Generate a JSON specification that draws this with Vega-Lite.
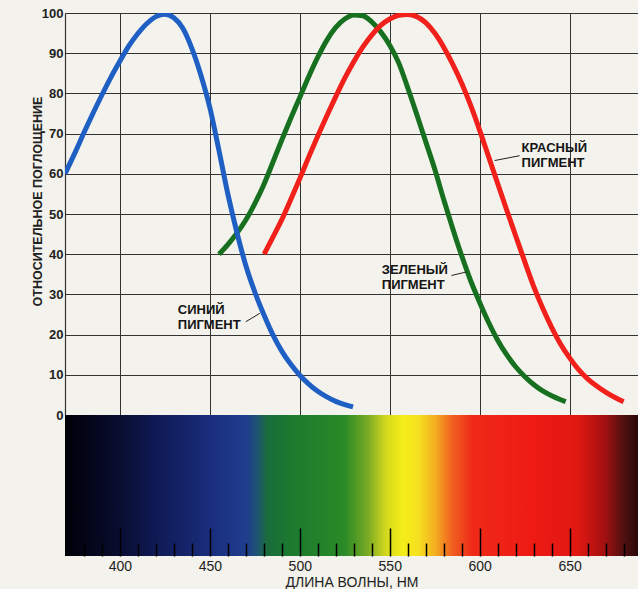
{
  "$schema": "https://vega.github.io/schema/vega-lite/v6.json",
  "background": "#f3f2ec",
  "padding": {"left": 31, "top": 7, "right": 0, "bottom": 0},
  "spacing": 0,
  "bounds": "flush",
  "config": {"view": {"stroke": null}, "font": "Liberation Sans"},
  "datasets": {
    "curves": [
      {"pigment": "зеленый", "w": 455.1, "v": 40},
      {"pigment": "зеленый", "w": 460, "v": 42.4},
      {"pigment": "зеленый", "w": 465, "v": 45.2},
      {"pigment": "зеленый", "w": 470, "v": 48.5},
      {"pigment": "зеленый", "w": 475, "v": 52.6},
      {"pigment": "зеленый", "w": 480, "v": 57.3},
      {"pigment": "зеленый", "w": 485, "v": 62.8},
      {"pigment": "зеленый", "w": 490, "v": 68.4},
      {"pigment": "зеленый", "w": 495, "v": 73.8},
      {"pigment": "зеленый", "w": 500, "v": 79},
      {"pigment": "зеленый", "w": 505, "v": 84.2},
      {"pigment": "зеленый", "w": 510, "v": 89},
      {"pigment": "зеленый", "w": 515, "v": 93.2},
      {"pigment": "зеленый", "w": 520, "v": 96.4},
      {"pigment": "зеленый", "w": 525, "v": 98.5},
      {"pigment": "зеленый", "w": 530, "v": 99.5},
      {"pigment": "зеленый", "w": 535, "v": 99.3},
      {"pigment": "зеленый", "w": 540, "v": 97.8},
      {"pigment": "зеленый", "w": 545, "v": 95.3},
      {"pigment": "зеленый", "w": 550, "v": 92},
      {"pigment": "зеленый", "w": 555, "v": 87.6},
      {"pigment": "зеленый", "w": 560, "v": 81.4},
      {"pigment": "зеленый", "w": 565, "v": 74.8},
      {"pigment": "зеленый", "w": 570, "v": 68},
      {"pigment": "зеленый", "w": 575, "v": 61.2},
      {"pigment": "зеленый", "w": 580, "v": 53.6},
      {"pigment": "зеленый", "w": 585, "v": 46.4},
      {"pigment": "зеленый", "w": 590, "v": 39.6},
      {"pigment": "зеленый", "w": 595, "v": 33.4},
      {"pigment": "зеленый", "w": 600, "v": 28},
      {"pigment": "зеленый", "w": 605, "v": 23},
      {"pigment": "зеленый", "w": 610, "v": 18.6},
      {"pigment": "зеленый", "w": 615, "v": 15},
      {"pigment": "зеленый", "w": 620, "v": 12},
      {"pigment": "зеленый", "w": 625, "v": 9.6},
      {"pigment": "зеленый", "w": 630, "v": 7.6},
      {"pigment": "зеленый", "w": 635, "v": 6},
      {"pigment": "зеленый", "w": 640, "v": 4.8},
      {"pigment": "зеленый", "w": 645, "v": 3.8},
      {"pigment": "зеленый", "w": 647.8, "v": 3.3},
      {"pigment": "красный", "w": 480.2, "v": 40},
      {"pigment": "красный", "w": 485, "v": 44.2},
      {"pigment": "красный", "w": 490, "v": 48.6},
      {"pigment": "красный", "w": 495, "v": 53.6},
      {"pigment": "красный", "w": 500, "v": 58.8},
      {"pigment": "красный", "w": 505, "v": 64.2},
      {"pigment": "красный", "w": 510, "v": 69.4},
      {"pigment": "красный", "w": 515, "v": 74.4},
      {"pigment": "красный", "w": 520, "v": 79.2},
      {"pigment": "красный", "w": 525, "v": 83.8},
      {"pigment": "красный", "w": 530, "v": 87.9},
      {"pigment": "красный", "w": 535, "v": 91.5},
      {"pigment": "красный", "w": 540, "v": 94.5},
      {"pigment": "красный", "w": 545, "v": 96.9},
      {"pigment": "красный", "w": 550, "v": 98.5},
      {"pigment": "красный", "w": 555, "v": 99.4},
      {"pigment": "красный", "w": 560, "v": 99.6},
      {"pigment": "красный", "w": 565, "v": 99.1},
      {"pigment": "красный", "w": 570, "v": 97.6},
      {"pigment": "красный", "w": 575, "v": 95},
      {"pigment": "красный", "w": 580, "v": 91.5},
      {"pigment": "красный", "w": 585, "v": 87.3},
      {"pigment": "красный", "w": 590, "v": 82.5},
      {"pigment": "красный", "w": 595, "v": 77},
      {"pigment": "красный", "w": 600, "v": 70.8},
      {"pigment": "красный", "w": 605, "v": 64.2},
      {"pigment": "красный", "w": 610, "v": 57.6},
      {"pigment": "красный", "w": 615, "v": 51},
      {"pigment": "красный", "w": 620, "v": 44.6},
      {"pigment": "красный", "w": 625, "v": 38.2},
      {"pigment": "красный", "w": 630, "v": 32},
      {"pigment": "красный", "w": 635, "v": 26.6},
      {"pigment": "красный", "w": 640, "v": 21.8},
      {"pigment": "красный", "w": 645, "v": 17.6},
      {"pigment": "красный", "w": 650, "v": 14.2},
      {"pigment": "красный", "w": 655, "v": 11.3},
      {"pigment": "красный", "w": 660, "v": 9},
      {"pigment": "красный", "w": 665, "v": 7.2},
      {"pigment": "красный", "w": 670, "v": 5.7},
      {"pigment": "красный", "w": 675, "v": 4.4},
      {"pigment": "красный", "w": 680, "v": 3.3},
      {"pigment": "синий", "w": 369.5, "v": 60},
      {"pigment": "синий", "w": 375, "v": 65.2},
      {"pigment": "синий", "w": 380, "v": 70.2},
      {"pigment": "синий", "w": 385, "v": 75},
      {"pigment": "синий", "w": 390, "v": 79.6},
      {"pigment": "синий", "w": 395, "v": 84},
      {"pigment": "синий", "w": 400, "v": 88},
      {"pigment": "синий", "w": 405, "v": 91.8},
      {"pigment": "синий", "w": 410, "v": 94.9},
      {"pigment": "синий", "w": 415, "v": 97.4},
      {"pigment": "синий", "w": 420, "v": 99.1},
      {"pigment": "синий", "w": 425, "v": 99.7},
      {"pigment": "синий", "w": 430, "v": 98.8},
      {"pigment": "синий", "w": 435, "v": 96.2},
      {"pigment": "синий", "w": 440, "v": 91.2},
      {"pigment": "синий", "w": 445, "v": 84.6},
      {"pigment": "синий", "w": 450, "v": 76.5},
      {"pigment": "синий", "w": 455, "v": 66},
      {"pigment": "синий", "w": 460, "v": 55},
      {"pigment": "синий", "w": 465, "v": 45.5},
      {"pigment": "синий", "w": 470, "v": 37.2},
      {"pigment": "синий", "w": 475, "v": 30.6},
      {"pigment": "синий", "w": 480, "v": 25},
      {"pigment": "синий", "w": 485, "v": 20},
      {"pigment": "синий", "w": 490, "v": 15.9},
      {"pigment": "синий", "w": 495, "v": 12.6},
      {"pigment": "синий", "w": 500, "v": 9.9},
      {"pigment": "синий", "w": 505, "v": 7.7},
      {"pigment": "синий", "w": 510, "v": 5.9},
      {"pigment": "синий", "w": 515, "v": 4.5},
      {"pigment": "синий", "w": 520, "v": 3.4},
      {"pigment": "синий", "w": 525, "v": 2.6},
      {"pigment": "синий", "w": 529.6, "v": 2}
    ],
    "labels": [
      {"w": 432.2, "v": 27.6, "label": "СИНИЙ\nПИГМЕНТ"},
      {"w": 545.6, "v": 37.6, "label": "ЗЕЛЕНЫЙ\nПИГМЕНТ"},
      {"w": 623.3, "v": 67.9, "label": "КРАСНЫЙ\nПИГМЕНТ"}
    ],
    "pointers": [
      {"w1": 470, "v1": 23.2, "w2": 477.8, "v2": 25.3},
      {"w1": 584.3, "v1": 34.7, "w2": 592.8, "v2": 35.6},
      {"w1": 622.2, "v1": 64.5, "w2": 608.3, "v2": 63.3}
    ],
    "spectrum": [{"from": 369.5, "to": 688}]
  },
  "vconcat": [
    {
      "width": 573,
      "height": 402,
      "layer": [
        {
          "data": {"name": "curves"},
          "mark": {"type": "line", "strokeWidth": 5, "interpolate": "monotone", "clip": true},
          "encoding": {
            "x": {
              "field": "w", "type": "quantitative",
              "scale": {"domain": [369.5, 688], "nice": false, "zero": false},
              "axis": {"values": [400, 450, 500, 550, 600, 650], "labels": false, "ticks": false, "domain": false, "grid": true, "gridColor": "#333333", "gridWidth": 1, "title": null}
            },
            "y": {
              "field": "v", "type": "quantitative",
              "scale": {"domain": [0, 100], "nice": false},
              "axis": {
                "values": [0, 10, 20, 30, 40, 50, 60, 70, 80, 90, 100],
                "grid": true, "gridColor": "#333333", "gridWidth": 1,
                "domain": true, "domainColor": "#333333", "domainWidth": 1.2,
                "ticks": false, "labelPadding": 2, "labelFontSize": 13, "labelFontWeight": "bold", "labelColor": "#222222",
                "title": "ОТНОСИТЕЛЬНОЕ ПОГЛОЩЕНИЕ", "titleFontSize": 12.5, "titleFontWeight": "bold", "titleColor": "#222222",
                "titleX": -24, "titleY": 188, "titleBaseline": "alphabetic"
              }
            },
            "color": {
              "field": "pigment", "type": "nominal",
              "scale": {"domain": ["зеленый", "красный", "синий"], "range": ["#17701f", "#f2201a", "#1f5fc4"]},
              "legend": null
            }
          }
        },
        {
          "data": {"name": "pointers"},
          "mark": {"type": "rule", "color": "#222222", "strokeWidth": 1},
          "encoding": {
            "x": {"field": "w1", "type": "quantitative"},
            "y": {"field": "v1", "type": "quantitative"},
            "x2": {"field": "w2"},
            "y2": {"field": "v2"}
          }
        },
        {
          "data": {"name": "labels"},
          "mark": {"type": "text", "align": "left", "baseline": "top", "lineBreak": "\n", "lineHeight": 15, "fontSize": 13, "fontWeight": "bold", "color": "#151515"},
          "encoding": {
            "x": {"field": "w", "type": "quantitative"},
            "y": {"field": "v", "type": "quantitative"},
            "text": {"field": "label"}
          }
        }
      ]
    },
    {
      "width": 573,
      "height": 141,
      "data": {"name": "spectrum"},
      "mark": {
        "type": "rect",
        "fill": {
          "gradient": "linear", "x1": 0, "x2": 1, "y1": 0, "y2": 0,
          "stops": [
            {"offset": 0, "color": "#000008"},
            {"offset": 0.08, "color": "#070a28"},
            {"offset": 0.159, "color": "#0f1a55"},
            {"offset": 0.253, "color": "#1a2d7c"},
            {"offset": 0.316, "color": "#1f3d8e"},
            {"offset": 0.334, "color": "#1e5276"},
            {"offset": 0.353, "color": "#1a6c3c"},
            {"offset": 0.394, "color": "#1b7a2e"},
            {"offset": 0.488, "color": "#2a8a26"},
            {"offset": 0.529, "color": "#7aab24"},
            {"offset": 0.56, "color": "#d4d81e"},
            {"offset": 0.589, "color": "#f4ee18"},
            {"offset": 0.617, "color": "#f6e020"},
            {"offset": 0.645, "color": "#f4b020"},
            {"offset": 0.676, "color": "#f06020"},
            {"offset": 0.711, "color": "#ef2a18"},
            {"offset": 0.818, "color": "#ee1a14"},
            {"offset": 0.896, "color": "#e01812"},
            {"offset": 0.943, "color": "#a01010"},
            {"offset": 0.975, "color": "#501010"},
            {"offset": 1, "color": "#2a0808"}
          ]
        }
      },
      "encoding": {
        "x": {
          "field": "from", "type": "quantitative",
          "scale": {"domain": [369.5, 688], "nice": false, "zero": false},
          "axis": {
            "values": [380, 390, 400, 410, 420, 430, 440, 450, 460, 470, 480, 490, 500, 510, 520, 530, 540, 550, 560, 570, 580, 590, 600, 610, 620, 630, 640, 650, 660, 670, 680],
            "grid": true, "gridColor": "#000000", "gridWidth": 1.5,
            "gridDash": {"condition": {"test": "datum.value % 50 === 0", "value": [0, 113, 28, 100]}, "value": [0, 128, 13, 100]},
            "ticks": false, "domain": false,
            "labelExpr": "datum.value % 50 === 0 ? datum.label : ''",
            "labelOverlap": false, "labelFlush": false,
            "labelFontSize": 14, "labelColor": "#222222", "labelPadding": 3,
            "title": "ДЛИНА ВОЛНЫ, НМ", "titleFontSize": 14, "titleFontWeight": "normal", "titleColor": "#222222", "titlePadding": 2,
            "zindex": 1
          }
        },
        "x2": {"field": "to"},
        "y": {"datum": 0, "type": "quantitative", "scale": {"domain": [0, 1]}, "axis": null},
        "y2": {"datum": 1}
      }
    }
  ]
}
